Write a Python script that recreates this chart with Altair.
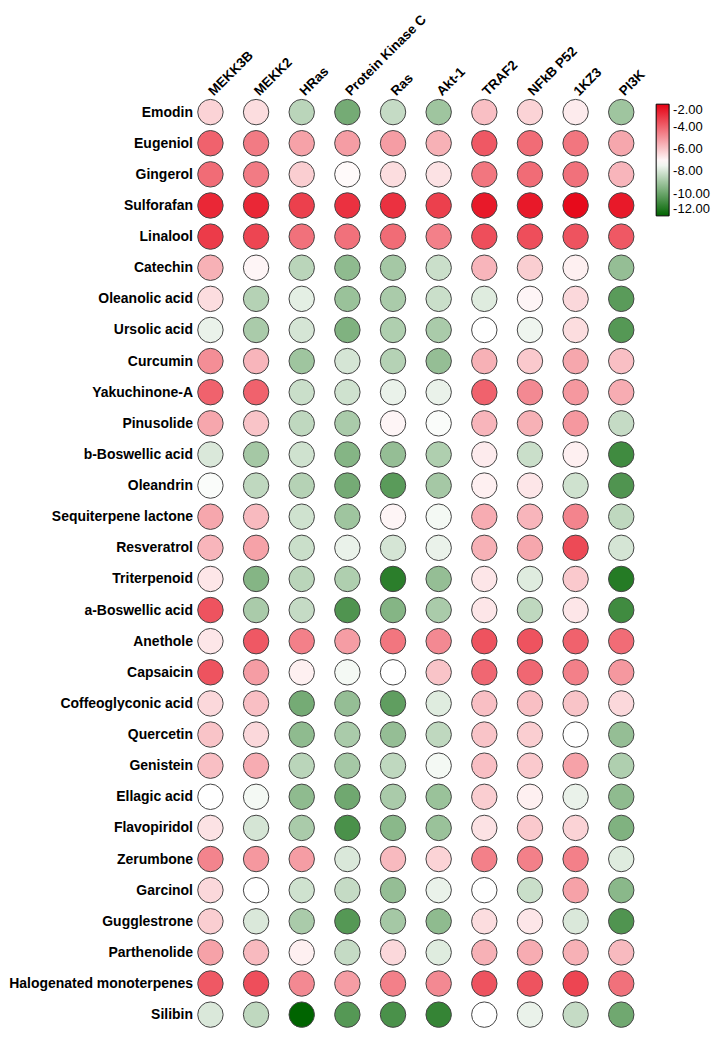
import altair as alt
import pandas as pd

targets = ["MEKK3B", "MEKK2", "HRas", "Protein Kinase C", "Ras", "Akt-1",
           "TRAF2", "NFkB P52", "1KZ3", "PI3K"]
compounds = ["Emodin", "Eugeniol", "Gingerol", "Sulforafan", "Linalool", "Catechin",
             "Oleanolic acid", "Ursolic acid", "Curcumin", "Yakuchinone-A", "Pinusolide",
             "b-Boswellic acid", "Oleandrin", "Sequiterpene lactone", "Resveratrol",
             "Triterpenoid", "a-Boswellic acid", "Anethole", "Capsaicin",
             "Coffeoglyconic acid", "Quercetin", "Genistein", "Ellagic acid",
             "Flavopiridol", "Zerumbone", "Garcinol", "Gugglestrone", "Parthenolide",
             "Halogenated monoterpenes", "Silibin"]

emodin = [-6.3, -6.5, -8.5, -9.8, -8.3, -9.0, -5.9, -6.3, -6.8, -9.0]
eugeniol = [-4.0, -4.5, -5.3, -5.2, -5.2, -5.6, -3.8, -4.2, -4.4, -5.4]
gingerol = [-4.2, -4.5, -6.2, -7.1, -6.5, -6.6, -4.4, -4.2, -4.3, -5.7]
sulforafan = [-2.8, -2.8, -3.3, -3.0, -3.0, -3.3, -2.5, -2.5, -2.2, -2.5]
linalool = [-3.2, -3.4, -4.3, -4.3, -4.2, -4.6, -3.6, -3.6, -3.7, -3.8]
catechin = [-5.6, -7.0, -8.5, -9.3, -8.9, -8.2, -5.7, -6.2, -6.9, -9.2]
oleanolic = [-6.5, -8.6, -7.7, -9.1, -8.8, -8.2, -7.8, -7.0, -6.4, -10.3]
ursolic = [-7.6, -8.8, -8.0, -9.6, -8.7, -8.8, -7.2, -7.5, -6.5, -10.4]
curcumin = [-4.9, -5.7, -9.0, -8.0, -8.6, -9.2, -5.6, -6.1, -5.4, -5.9]
yakuchinone = [-4.0, -4.0, -8.2, -8.1, -7.6, -7.6, -4.0, -4.8, -5.1, -5.5]
pinusolide = [-5.4, -6.0, -8.4, -8.8, -7.0, -7.3, -5.7, -5.6, -5.1, -8.3]
b_boswellic = [-7.9, -8.9, -8.1, -9.5, -9.2, -8.7, -6.8, -8.2, -6.9, -10.8]
oleandrin = [-7.3, -8.4, -8.6, -9.8, -10.3, -8.9, -6.9, -6.7, -8.1, -10.5]
sesquiterpene = [-5.4, -5.8, -8.1, -9.0, -7.0, -7.4, -5.5, -5.7, -4.7, -8.4]
resveratrol = [-5.7, -5.3, -8.2, -7.6, -8.0, -7.6, -5.6, -5.4, -3.5, -8.0]
triterpenoid = [-6.7, -9.5, -8.5, -8.7, -11.2, -9.2, -6.7, -7.8, -6.1, -11.3]
a_boswellic = [-3.7, -8.8, -8.3, -10.5, -9.5, -8.8, -6.7, -8.4, -6.7, -10.8]
anethole = [-6.7, -3.8, -4.6, -5.2, -4.4, -4.8, -3.7, -3.7, -4.0, -4.2]
capsaicin = [-3.7, -5.2, -6.9, -7.4, -7.2, -6.0, -4.1, -4.1, -4.6, -5.1]
coffeoglyconic = [-6.4, -5.9, -9.8, -9.2, -10.2, -7.8, -5.9, -5.9, -6.0, -6.4]
quercetin = [-6.0, -6.4, -9.3, -8.8, -9.2, -8.4, -6.0, -6.2, -7.2, -9.2]
genistein = [-5.9, -5.5, -8.5, -8.9, -8.4, -7.4, -5.9, -6.1, -5.3, -8.7]
ellagic = [-7.2, -7.4, -9.3, -9.9, -8.8, -9.1, -6.2, -6.9, -7.6, -9.3]
flavopiridol = [-6.6, -8.0, -8.8, -10.6, -9.4, -9.1, -6.6, -6.1, -6.3, -9.6]
zerumbone = [-4.7, -5.1, -5.2, -7.9, -5.8, -6.3, -4.6, -4.6, -4.6, -7.8]
garcinol = [-6.4, -7.2, -8.1, -8.3, -9.2, -7.6, -7.2, -8.2, -5.3, -9.4]
gugglestrone = [-6.2, -7.9, -8.8, -10.4, -8.9, -9.3, -6.5, -6.7, -7.9, -10.5]
parthenolide = [-5.3, -5.8, -6.9, -8.3, -6.4, -7.8, -5.6, -5.5, -5.6, -5.8]
halogenated = [-3.8, -3.6, -4.8, -5.2, -4.6, -4.8, -3.7, -3.7, -3.4, -4.3]
silibin = [-7.9, -8.4, -12.0, -10.4, -10.6, -11.0, -7.2, -7.6, -8.3, -9.9]

rows = [emodin, eugeniol, gingerol, sulforafan, linalool, catechin, oleanolic,
        ursolic, curcumin, yakuchinone, pinusolide, b_boswellic, oleandrin,
        sesquiterpene, resveratrol, triterpenoid, a_boswellic, anethole, capsaicin,
        coffeoglyconic, quercetin, genistein, ellagic, flavopiridol, zerumbone,
        garcinol, gugglestrone, parthenolide, halogenated, silibin]

legend_values = [-2, -4, -6, -8, -10, -12]

records = []
for comp, vals in zip(compounds, rows):
    for t, v in zip(targets, vals):
        records.append({"compound": comp, "target": t, "score": v})
df = pd.DataFrame(records)

font = "Liberation Sans"

chart = alt.Chart(df).mark_circle(
    size=650, opacity=1, stroke="#444444", strokeWidth=1
).encode(
    x=alt.X("target:N", sort=targets,
            scale=alt.Scale(type="point", padding=0.306),
            axis=alt.Axis(orient="top", title=None, labelAngle=-45,
                          labelAlign="left", labelBaseline="middle",
                          labelFont=font, labelFontWeight="bold",
                          labelFontSize=13.5, labelColor="black", labelLimit=300,
                          labelPadding=5, ticks=False, domain=False, grid=False)),
    y=alt.Y("compound:N", sort=compounds,
            scale=alt.Scale(type="point", padding=0.447),
            axis=alt.Axis(title=None, labelFont=font, labelFontWeight="bold",
                          labelFontSize=14, labelColor="black", labelPadding=4,
                          labelLimit=300,
                          ticks=False, domain=False, grid=False)),
    color=alt.Color("score:Q",
                    scale=alt.Scale(domain=[-12, -7.2, -2], interpolate="rgb",
                                    range=["#006400", "#ffffff", "#e60012"]),
                    legend=alt.Legend(title=None, orient="none",
                                      legendX=461, legendY=6,
                                      values=legend_values,
                                      labelExpr="replace(format(datum.value, '.2f'), '\u2212', '-')",
                                      gradientLength=112, gradientThickness=13,
                                      gradientStrokeColor="black",
                                      gradientStrokeWidth=1,
                                      labelFont=font, labelFontSize=13,
                                      labelColor="black", labelOffset=4))
).properties(
    width=440, height=933,
    autosize=alt.AutoSizeParams(type="none"),
    padding={"left": 189, "top": 89, "right": 77, "bottom": 3}
).configure_view(stroke=None)

chart.save("out.html", embed_options={"renderer": "svg", "actions": False})
